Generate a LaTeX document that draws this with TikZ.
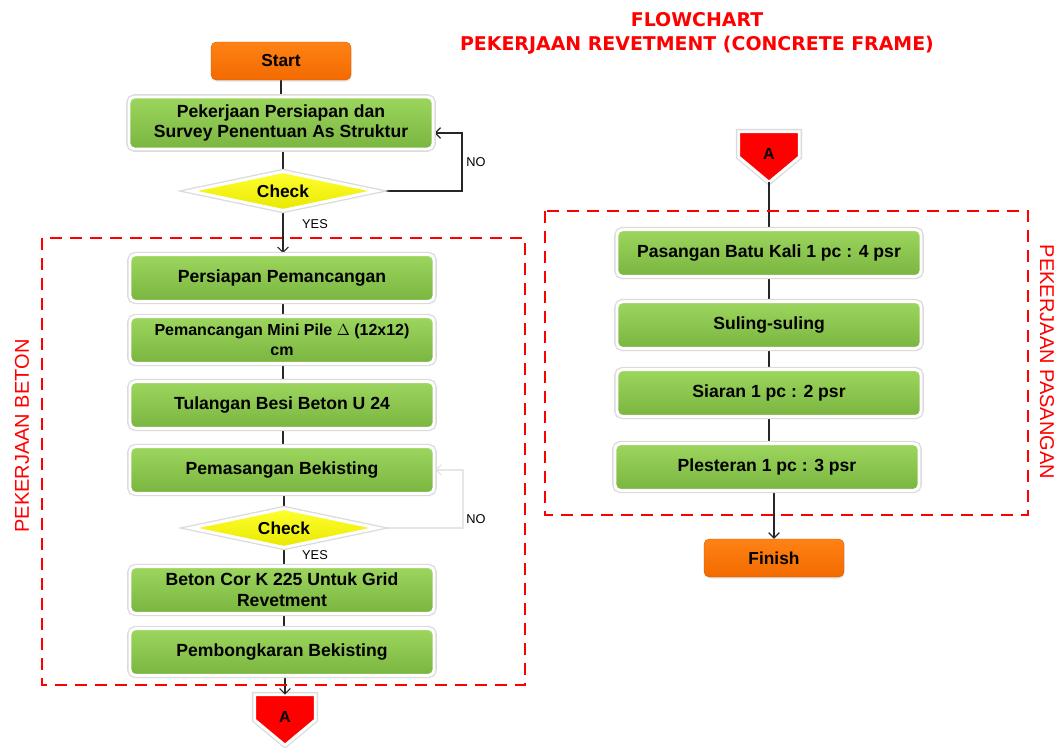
\documentclass[tikz,border=0pt]{standalone}
\usepackage{fontspec}
\setmainfont{Liberation Sans}
\newfontfamily\titlefont{DejaVu Sans}
\usetikzlibrary{shapes.geometric,shadows,arrows.meta}
\pgfdeclarelayer{background}
\pgfsetlayers{background,main}
\definecolor{grnA}{HTML}{9CD65E}
\definecolor{grnB}{HTML}{7AB540}
\definecolor{orgA}{HTML}{FF8214}
\definecolor{orgB}{HTML}{F26A00}
\definecolor{ylwA}{HTML}{FFFF30}
\definecolor{ylwB}{HTML}{E8E800}
\definecolor{dred}{HTML}{FF0000}
\definecolor{conn}{HTML}{262626}
\definecolor{faint}{HTML}{E6E6E6}
\tikzset{
  boxshadow/.style={drop shadow={opacity=0.2, shadow xshift=0.5pt, shadow yshift=-1.2pt}},
  halo/.style={preaction={draw=black!14, line width=4.2pt}},
  procbox/.style={rounded corners=4pt, draw=white, line width=2.2pt,
    top color=grnA, bottom color=grnB, minimum width=228pt, minimum height=35pt,
    font=\bfseries\fontsize{13.2}{15.5}\selectfont, align=center, inner sep=1pt, boxshadow, halo},
  termbox/.style={rounded corners=4pt, draw=orgB!85!black, line width=0.3pt,
    top color=orgA, bottom color=orgB, minimum width=105pt, minimum height=28.5pt,
    font=\bfseries\fontsize{13}{15}\selectfont, boxshadow},
  checkdia/.style={diamond, aspect=4.5, draw=white, line width=2.2pt, top color=ylwA, bottom color=ylwB,
    minimum width=140pt, minimum height=30pt, inner sep=0pt,
    font=\bfseries\fontsize{13}{15}\selectfont, boxshadow, halo},
  offpage/.style={rectangle, minimum width=45pt, minimum height=37.5pt, inner sep=0pt,
    font=\bfseries\fontsize{12}{14}\selectfont},
  offshape/.style={draw=white, line width=2.2pt, fill=dred, boxshadow, halo},
  link/.style={draw=conn, line width=0.9pt},
  arr/.style={link, -{Straight Barb[length=4pt,width=8pt]}},
  arrfaint/.style={draw=faint, line width=0.9pt, -{Straight Barb[length=4pt,width=8pt]}},
  zone/.style={draw=dred, line width=2.1pt, dash pattern=on 9pt off 6pt},
  zonelabel/.style={text=dred, font=\fontsize{15}{17}\selectfont},
  yn/.style={font=\fontsize{9.6}{11}\selectfont},
  titlestyle/.style={text=dred, align=center, font=\titlefont\bfseries\fontsize{14.2}{18}\selectfont},
}
\begin{document}
\begin{tikzpicture}[x=0.75pt,y=-0.75pt]
\useasboundingbox (0,0) rectangle (1061,747);

% title
\node[titlestyle] (title) at (697,33) {FLOWCHART\\PEKERJAAN REVETMENT (CONCRETE FRAME)};

% group frames
\draw[zone] (42,238) rectangle (525,685);
\draw[zone] (545,211) rectangle (1028,515);
\node[zonelabel, rotate=90] (zl) at (22,436) {PEKERJAAN BETON};
\node[zonelabel, rotate=-90] (zr) at (1047,362) {PEKERJAAN PASANGAN};

% left column
\node[termbox] (start) at (281,61) {Start};
\node[procbox, minimum height=39pt] (b1) at (281,123) {Pekerjaan Persiapan dan\\Survey Penentuan As Struktur};
\node[checkdia] (c1) at (283,191) {Check};
\node[procbox] (b2) at (282,278) {Persiapan Pemancangan};
\node[procbox, font=\bfseries\fontsize{12}{15}\selectfont] (b3) at (282,340) {Pemancangan Mini Pile \(\Delta\) (12x12)\\cm};
\node[procbox] (b4) at (282,405) {Tulangan Besi Beton U 24};
\node[procbox] (b5) at (282,470) {Pemasangan Bekisting};
\node[checkdia] (c2) at (284,528) {Check};
\node[procbox] (b6) at (282,590) {Beton Cor K 225 Untuk Grid\\Revetment};
\node[procbox] (b7) at (282,652) {Pembongkaran Bekisting};
\node[offpage] (a1) at (285,720) {\raisebox{5pt}{A}};

% right column
\node[offpage] (a2) at (769,157) {\raisebox{5pt}{A}};
\node[procbox] (r1) at (769,253) {Pasangan Batu Kali 1 pc : 4 psr};
\node[procbox] (r2) at (769,325) {Suling-suling};
\node[procbox] (r3) at (769,393) {Siaran 1 pc : 2 psr};
\node[procbox] (r4) at (767,467) {Plesteran 1 pc : 3 psr};
\node[termbox] (fin) at (774,558) {Finish};

% labels
\node[yn] (no1) at (476,162) {NO};
\node[yn] (yes1) at (315,224) {YES};
\node[yn] (no2) at (476,519) {NO};
\node[yn] (yes2) at (315,555) {YES};

\coordinate (n1) at (462,133);
\coordinate (n2) at (463,470);

\begin{pgfonlayer}{background}
\path[offshape] (a1.north west) -- (a1.north east) -- (a1.east) -- (a1.south) -- (a1.west) -- cycle;
\path[offshape] (a2.north west) -- (a2.north east) -- (a2.east) -- (a2.south) -- (a2.west) -- cycle;
\draw[link] (start) -- (start |- b1.north);
\draw[link] (b1.south -| c1) -- (c1);
\draw[arr] (c1.south) -- (c1.south |- b2.north);
\draw[link] (b2.south -| c1) -- (c1 |- b3.north);
\draw[link] (b3.south -| c1) -- (c1 |- b4.north);
\draw[link] (b4.south -| c1) -- (c1 |- b5.north);
\draw[link] (b5.south -| c2) -- (c2);
\draw[link] (c2.south) -- (c2.south |- b6.north);
\draw[link] (b6.south -| c2) -- (c2 |- b7.north);
\draw[arr] (b7.south -| a1) -- (a1.north);
\draw[arr] (c1.east) -| (n1) -- (n1 -| b1.east);
\draw[arrfaint] (c2.east) -| (n2) -- (n2 -| b5.east);
\draw[link] (a2.south) -- (r1.north);
\draw[link] (r1) -- (r2);
\draw[link] (r2) -- (r3);
\draw[link] (r3.south) -- (r3.south |- r4.north);
\draw[arr] (r4.south -| fin) -- (fin.north);
\end{pgfonlayer}
\end{tikzpicture}
\end{document}
